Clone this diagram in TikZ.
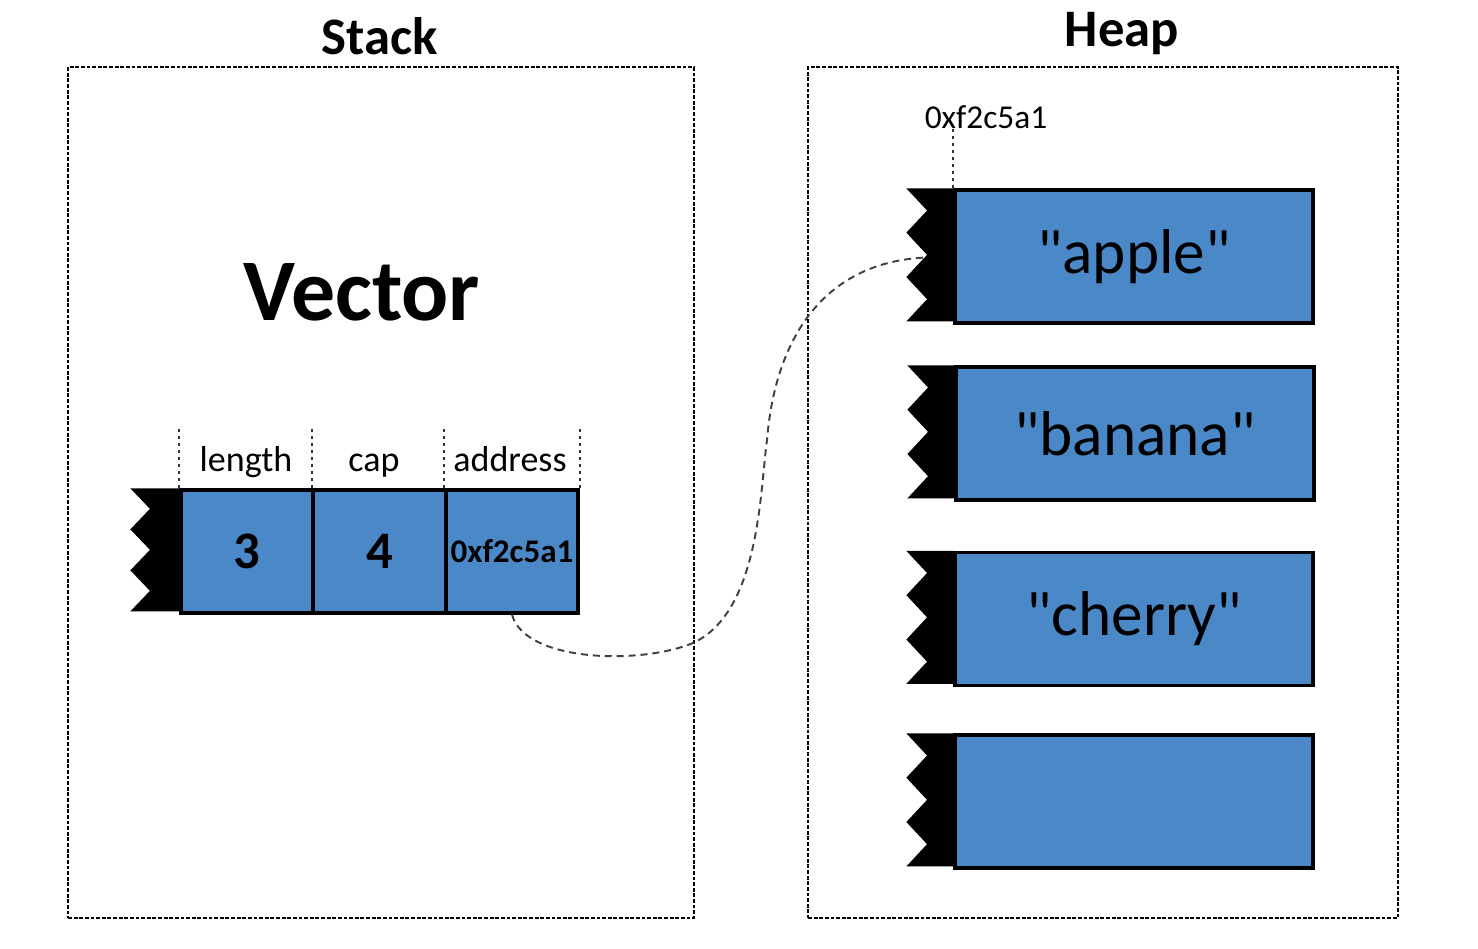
\documentclass[tikz,border=0pt]{standalone}
\usepackage{fontspec}
\setmainfont{Carlito}[Ligatures=TeXOff]
\usetikzlibrary{calc}
\definecolor{cellblue}{RGB}{74,136,199}
\newcommand\jagged[4]{% node, total width, inner ratio, height
  \begin{scope}[shift={(#1.north west)}]
    \fill (0,0) -- (-#2,0) -- ({-#2*#3},{#4/6}) -- (-#2,{#4/3}) -- ({-#2*#3},{#4/2})
      -- (-#2,{2*#4/3}) -- ({-#2*#3},{5*#4/6}) -- (-#2,#4) -- (0,#4) -- cycle;
  \end{scope}}
\begin{document}
\begin{tikzpicture}[x=0.02cm,y=-0.02cm,
  region/.style={draw, line width=1.2pt, dash pattern=on 2.2pt off 1pt},
  title/.style={font=\fontsize{30}{36}\selectfont\bfseries},
  cell/.style={draw, fill=cellblue, line width=1.9pt, inner sep=0pt,
    minimum width=2.64cm, minimum height=2.46cm},
  heapcell/.style={draw, fill=cellblue, line width=1.9pt, inner sep=0pt,
    minimum width=7.16cm, minimum height=2.66cm,
    font=\fontsize{36}{42}\selectfont},
  field/.style={font=\fontsize{20.5}{24}\selectfont, anchor=base, inner sep=0pt},
  tick/.style={draw=black!80, line width=1.1pt, dash pattern=on 2pt off 2pt},
  link/.style={draw=black!75, line width=1.1pt, dash pattern=on 4pt off 2.8pt}]
\useasboundingbox (0,0) rectangle (1478,948);

% regions
\node[region, inner sep=0pt, minimum width=12.52cm, minimum height=17.02cm] (stackbox) at (381,492.5) {};
\node[region, inner sep=0pt, minimum width=11.8cm, minimum height=17.02cm] (heapbox) at (1103,492.5) {};
\node[title] (stacktitle) at (380,36) {Stack};
\node[title] (heaptitle) at (1122,34) {Heap};

% vector
\node[font=\fontsize{50}{60}\selectfont\bfseries] (vector) at (362,292) {Vector};
\node[cell, font=\fontsize{30}{36}\selectfont\bfseries] (len) at (247,551.5) {3};
\node[cell, font=\fontsize{30}{36}\selectfont\bfseries] (cap) at (379.5,551.5) {4};
\node[cell, font=\fontsize{18.8}{22}\selectfont\bfseries] (addr) at (512,551.5) {0xf2c5a1};
\jagged{len}{49}{0.6}{123}
\node[field] (lenlbl) at (246,471) {length};
\node[field] (caplbl) at (374,471) {cap};
\node[field] (addrlbl) at (510,471) {address};
\draw[tick] (len.north west) -- ++(0,-60);
\draw[tick] (cap.north west) -- ++(0,-60);
\draw[tick] (addr.north west) -- ++(0,-60);
\draw[tick] (addr.north east) -- ++(0,-60);

% heap
\node[heapcell] (apple) at (1134,256.5) {"apple"};
\node[heapcell] (banana) at (1135,433.5) {"banana"};
\node[heapcell] (cherry) at (1134,619) {"cherry"};
\node[heapcell] (empty) at (1134,801.5) {};
\jagged{apple}{47}{0.56}{133}
\jagged{banana}{47}{0.56}{133}
\jagged{cherry}{47}{0.56}{133}
\jagged{empty}{47}{0.56}{133}
\node[font=\fontsize{19}{22}\selectfont, inner sep=0pt] (heapaddr) at (986,117) {0xf2c5a1};
\draw[tick] (apple.north west) -- ++(0,-60);

% link
\coordinate (target) at ($(apple.west)+(-28,1)$);
\draw[link] (addr.south) .. controls (525,662) and (640,665) .. (693,643)
  .. controls (760,612) and (760,490) .. (767,440)
  .. controls (776,330) and (830,262) .. (target);
\end{tikzpicture}
\end{document}
